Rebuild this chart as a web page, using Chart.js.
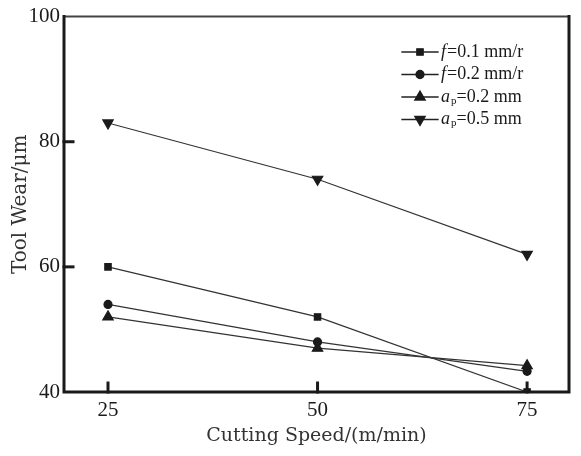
<!DOCTYPE html>
<html>
<head>
<meta charset="utf-8">
<script src="https://cdn.jsdelivr.net/npm/chart.js@4.4.1/dist/chart.umd.min.js"></script>
<style>
  html, body { margin: 0; padding: 0; background: #fff; }
  #wrap { width: 581px; height: 456px; }
</style>
</head>
<body>
<div id="wrap"><canvas id="chart"></canvas></div>
<script>
// cutting speed (m/min)
const speeds = [25, 50, 75];
const xTicks = [25, 50, 75];
const yTicks = [40, 60, 80, 100];

// tool wear (um) per series
const wearF01 = [60, 52, 40];
const wearF02 = [54, 48, 43.3];
const wearAp02 = [52, 47, 44.2];
const wearAp05 = [83, 74, 62];

// legend text pieces: [text, italic, subscript]
const legendParts = [
  [['f', true, false], ['=0.1 mm/r', false, false]],
  [['f', true, false], ['=0.2 mm/r', false, false]],
  [['a', true, false], ['p', false, true], ['=0.2 mm', false, false]],
  [['a', true, false], ['p', false, true], ['=0.5 mm', false, false]]
];

const serif = '"Liberation Serif", "DejaVu Serif", serif';
const wide = '"DejaVu Serif", "Liberation Serif", serif';
const ink = '#1a1a1a';

function pts(arr) {
  return speeds.map((s, i) => ({ x: s, y: arr[i] }));
}

function makeSet(label, arr, style, radius, rotation) {
  return {
    label: label,
    data: pts(arr),
    borderColor: '#333',
    borderWidth: 1.2,
    backgroundColor: ink,
    pointBackgroundColor: ink,
    pointBorderColor: ink,
    pointStyle: style,
    pointRadius: radius,
    pointRotation: rotation,
    pointHoverRadius: radius,
    tension: 0
  };
}

// frame, inward ticks and the in-plot legend
const framePlugin = {
  id: 'frame',
  afterDraw(chart) {
    const ctx = chart.ctx;
    const a = chart.chartArea;
    const xs = chart.scales.x;
    const ys = chart.scales.y;
    ctx.save();
    ctx.lineCap = 'square';
    // thin top
    ctx.lineWidth = 2;
    ctx.strokeStyle = '#444';
    ctx.beginPath();
    ctx.moveTo(a.left, a.top);
    ctx.lineTo(a.right, a.top);
    ctx.stroke();
    // thick left, bottom, right
    ctx.strokeStyle = ink;
    ctx.lineWidth = 3;
    ctx.beginPath();
    ctx.moveTo(a.left, a.top);
    ctx.lineTo(a.left, a.bottom);
    ctx.lineTo(a.right, a.bottom);
    ctx.lineTo(a.right, a.top);
    ctx.stroke();
    // inward ticks
    yTicks.forEach(v => {
      if (v === ys.min || v === ys.max) return;
      const py = ys.getPixelForValue(v);
      ctx.beginPath();
      ctx.moveTo(a.left, py);
      ctx.lineTo(a.left + 9, py);
      ctx.stroke();
    });
    xTicks.forEach(v => {
      const px = xs.getPixelForValue(v);
      ctx.beginPath();
      ctx.moveTo(px, a.bottom);
      ctx.lineTo(px, a.bottom - 9);
      ctx.stroke();
    });

    // legend
    const lx = 402, ly = 52, gap = 22.5;
    chart.data.datasets.forEach((ds, i) => {
      const y = ly + i * gap;
      ctx.strokeStyle = '#222';
      ctx.lineWidth = 1.3;
      ctx.beginPath();
      ctx.moveTo(lx, y);
      ctx.lineTo(lx + 36, y);
      ctx.stroke();
      ctx.fillStyle = ink;
      Chart.helpers.drawPoint(ctx, {
        pointStyle: ds.pointStyle,
        rotation: ds.pointRotation,
        radius: ds.pointRadius,
        borderWidth: 1
      }, lx + 18, y);
      ctx.fill();
      let tx = lx + 39;
      ctx.textBaseline = 'middle';
      ctx.fillStyle = ink;
      legendParts[i].forEach(p => {
        const size = p[2] ? 11 : 18;
        ctx.font = (p[1] ? 'italic ' : '') + size + 'px ' + serif;
        ctx.fillText(p[0], tx, p[2] ? y + 4 : y);
        tx += ctx.measureText(p[0]).width + (p[1] ? 1 : 0);
      });
    });
    ctx.restore();
  }
};

new Chart(document.getElementById('chart'), {
  type: 'line',
  data: {
    datasets: [
      makeSet('f=0.1 mm/r', wearF01, 'rect', 4.5, 0),
      makeSet('f=0.2 mm/r', wearF02, 'circle', 4, 0),
      makeSet('ap=0.2 mm', wearAp02, 'triangle', 6, 0),
      makeSet('ap=0.5 mm', wearAp05, 'triangle', 6, 180)
    ]
  },
  options: {
    responsive: true,
    maintainAspectRatio: false,
    animation: false,
    layout: { padding: { top: 16, right: 12, left: 0, bottom: 0 } },
    plugins: {
      legend: { display: false },
      tooltip: { enabled: false }
    },
    scales: {
      x: {
        type: 'linear',
        min: 19.75,
        max: 80,
        afterBuildTicks(scale) {
          scale.ticks = xTicks.map(v => ({ value: v }));
        },
        afterFit(scale) { scale.height = 64; },
        grid: { display: false, drawTicks: false },
        border: { display: false },
        ticks: {
          color: ink,
          padding: 6,
          font: { family: serif, size: 21 }
        },
        title: {
          display: true,
          text: 'Cutting Speed/(m/min)',
          color: '#333',
          padding: { top: 0, bottom: 9 },
          font: { family: wide, size: 19 }
        }
      },
      y: {
        min: 40,
        max: 100,
        afterBuildTicks(scale) {
          scale.ticks = yTicks.map(v => ({ value: v }));
        },
        afterFit(scale) { scale.width = 64; },
        grid: { display: false, drawTicks: false },
        border: { display: false },
        ticks: {
          color: ink,
          padding: 4,
          font: { family: serif, size: 21 }
        },
        title: {
          display: true,
          text: 'Tool Wear/μm',
          color: '#333',
          padding: { top: 9, bottom: 0 },
          font: { family: wide, size: 20 }
        }
      }
    }
  },
  plugins: [framePlugin]
});
</script>
</body>
</html>
